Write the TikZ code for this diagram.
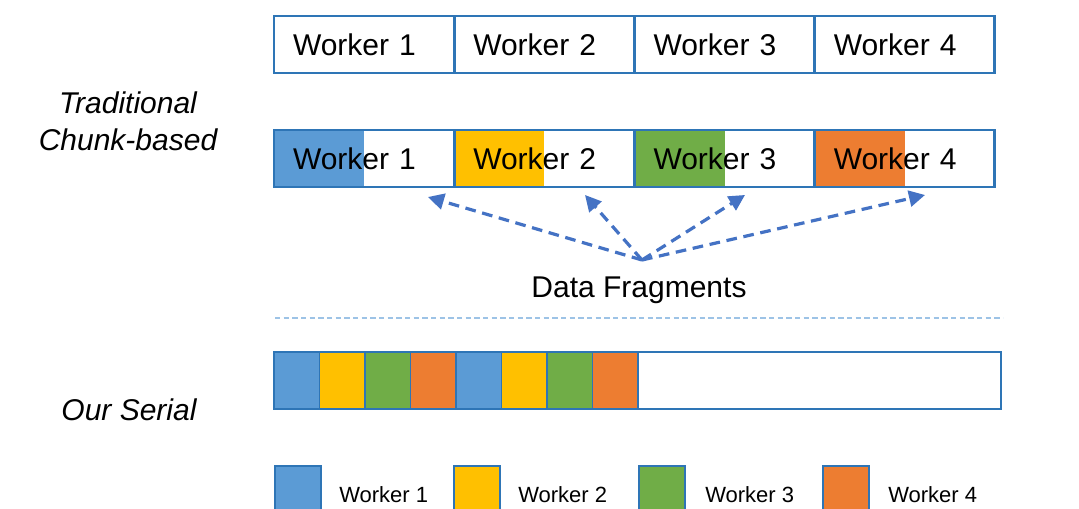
\documentclass[tikz,border=0pt]{standalone}
\usepackage{fontspec}
\setmainfont{Liberation Sans}
\usetikzlibrary{arrows.meta,positioning}

\definecolor{wone}{HTML}{5B9BD5}
\definecolor{wtwo}{HTML}{FFC000}
\definecolor{wthree}{HTML}{70AD47}
\definecolor{wfour}{HTML}{ED7D31}
\definecolor{edgeblue}{HTML}{2E75B6}
\definecolor{arrowblue}{HTML}{4472C4}
\definecolor{sepblue}{HTML}{9DC3E6}

\tikzset{
    cell/.style={draw=edgeblue, line width=2pt, minimum height=42.75pt,
        text width=106.5pt, inner xsep=14.25pt, align=left, inner ysep=0pt,
        font=\fontsize{22.5}{26}\selectfont},
    slot/.style={draw=edgeblue, line width=1.2pt, minimum width=34.1pt,
        minimum height=42.75pt, inner sep=0pt},
    key/.style={draw=edgeblue, line width=1.5pt, minimum width=34.5pt,
        minimum height=42.75pt, inner sep=0pt, anchor=north west},
    keytext/.style={anchor=west, inner sep=0pt, font=\fontsize{16.5}{19}\selectfont},
    side/.style={align=center, font=\fontsize{22.5}{28}\selectfont\itshape},
    frag/.style={arrowblue, line width=2.4pt, dash pattern=on 8pt off 5pt,
        -{Triangle[length=12pt,width=12pt]}}
}

\begin{document}
\begin{tikzpicture}[x=0.75pt,y=-0.75pt]
    \clip (0,0) rectangle (1079,509);
    \fill[white] (0,0) rectangle (1079,509);

    % traditional chunk-based layout
    \node[side] (trad) at (128,121) {Traditional\\Chunk-based};
    \foreach \i in {1,...,4}
        \node[cell] (top\i) at ({274+180.25*(\i-1)+90},44.5) {Worker \i};
    \foreach \i/\c in {1/wone,2/wtwo,3/wthree,4/wfour} {
        \fill[\c] ({274+180.25*(\i-1)},130) rectangle ++(90,57);
        \node[cell] (chunk\i) at ({274+180.25*(\i-1)+90},158.5) {Worker \i};
    }

    % data fragments
    \node[font=\fontsize{22.5}{26}\selectfont] (data) at (639,290) {Data Fragments};
    \coordinate (src) at (642,260);
    \coordinate (e1) at (428,197);
    \coordinate (e2) at (585,195);
    \coordinate (e3) at (745,195);
    \coordinate (e4) at (925,195);
    \foreach \i in {1,...,4}
        \draw[frag] (src) -- (e\i);

    \draw[sepblue, line width=0.8pt, dash pattern=on 4pt off 2.5pt] (275,318) -- (1003,318);

    % our serial layout
    \node[side] (serial) at (129,410) {Our Serial};
    \node[draw=edgeblue, line width=2pt, minimum width=545.25pt, minimum height=42.75pt,
        inner sep=0pt] (bar) at (637.5,380.5) {};
    \foreach \i/\c in {1/wone,2/wtwo,3/wthree,4/wfour,5/wone,6/wtwo,7/wthree,8/wfour}
        \node[slot, fill=\c] (s\i) at ({274+45.5*(\i-1)+22.75},380.5) {};

    % legend
    \foreach \i/\c/\x/\tx in {1/wone/274/339,2/wtwo/453/518,3/wthree/638/705,4/wfour/822/888} {
        \node[key, fill=\c] (k\i) at (\x,465) {};
        \node[keytext] (kt\i) at (\tx,495) {Worker \i};
    }
\end{tikzpicture}
\end{document}
